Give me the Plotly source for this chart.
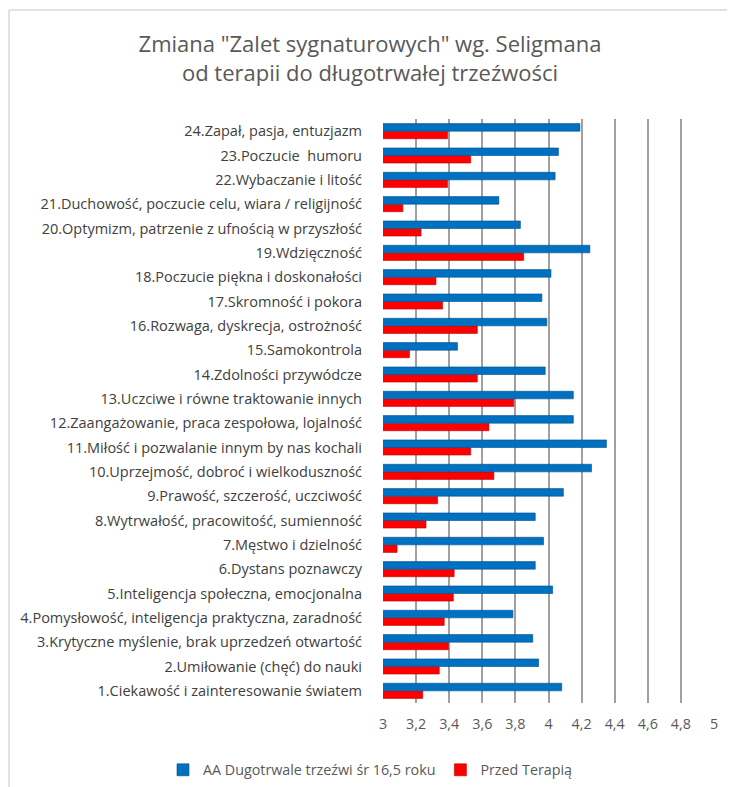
import plotly.graph_objects as go

categories = [
    "1.Ciekawość i zainteresowanie światem",
    "2.Umiłowanie (chęć) do nauki",
    "3.Krytyczne myślenie, brak uprzedzeń otwartość",
    "4.Pomysłowość, inteligencja praktyczna, zaradność",
    "5.Inteligencja społeczna, emocjonalna",
    "6.Dystans poznawczy",
    "7.Męstwo i dzielność",
    "8.Wytrwałość, pracowitość, sumienność",
    "9.Prawość, szczerość, uczciwość",
    "10.Uprzejmość, dobroć i wielkoduszność",
    "11.Miłość i pozwalanie innym by nas kochali",
    "12.Zaangażowanie, praca zespołowa, lojalność",
    "13.Uczciwe i równe traktowanie innych",
    "14.Zdolności przywódcze",
    "15.Samokontrola",
    "16.Rozwaga, dyskrecja, ostrożność",
    "17.Skromność i pokora",
    "18.Poczucie piękna i doskonałości",
    "19.Wdzięczność",
    "20.Optymizm, patrzenie z ufnością w przyszłość",
    "21.Duchowość, poczucie celu, wiara / religijność",
    "22.Wybaczanie i litość",
    "23.Poczucie  humoru",
    "24.Zapał, pasja, entuzjazm",
]

aa_values = [4.08, 3.94, 3.905, 3.785, 4.025, 3.92, 3.97, 3.92, 4.09, 4.26,
             4.35, 4.15, 4.15, 3.98, 3.45, 3.99, 3.96, 4.015, 4.25, 3.83,
             3.70, 4.04, 4.06, 4.19]
przed_values = [3.24, 3.34, 3.395, 3.37, 3.425, 3.43, 3.085, 3.26, 3.33, 3.67,
                3.53, 3.64, 3.79, 3.57, 3.16, 3.57, 3.36, 3.32, 3.85, 3.23,
                3.12, 3.39, 3.53, 3.39]

tick_vals = [3, 3.2, 3.4, 3.6, 3.8, 4, 4.2, 4.4, 4.6, 4.8, 5]
tick_text = ["3", "3,2", "3,4", "3,6", "3,8", "4", "4,2", "4,4", "4,6", "4,8", "5"]

series_names = ["AA Dugotrwale trzeźwi śr 16,5 roku", "Przed Terapią"]

# page has an 8px body margin; figure coordinates are page coordinates - 8
OFF = 8
W, H = 735 - OFF, 787 - OFF
L = 383 - OFF
R = W - (714 - OFF)
T = 119 - OFF
B = H - (703 - OFF)
PW, PH = W - L - R, H - T - B

FONT = "'Open Sans', 'Noto Sans', sans-serif"

fig = go.Figure()
fig.add_trace(go.Bar(
    y=categories, x=przed_values, orientation="h", name=series_names[1],
    marker=dict(color="#ff0000", line=dict(color="#c00000", width=0.6)),
))
fig.add_trace(go.Bar(
    y=categories, x=aa_values, orientation="h", name=series_names[0],
    marker=dict(color="#0070c0", line=dict(color="#004f8a", width=0.6)),
))

fig.update_layout(
    width=W, height=H,
    margin=dict(l=L, r=R, t=T, b=B, autoexpand=False),
    paper_bgcolor="white", plot_bgcolor="white",
    barmode="group", bargap=0.38, bargroupgap=0.0,
    font=dict(family=FONT, color="#404040"),
    title=dict(
        text="Zmiana \"Zalet sygnaturowych\" wg. Seligmana<br>od terapii do długotrwałej trzeźwości",
        x=(370 - OFF) / W, xanchor="center", xref="container",
        y=1 - (52 - OFF) / H, yanchor="middle", yref="container",
        font=dict(size=22, color="#595959", family=FONT),
    ),
    legend=dict(
        orientation="h", traceorder="reversed",
        x=(163 - OFF - L) / PW, xanchor="left", xref="paper",
        y=-(770 - 703) / PH, yanchor="middle", yref="paper",
        font=dict(size=14.3, color="#595959"),
        itemwidth=30,
    ),
    showlegend=True,
)
fig.update_xaxes(
    range=[3, 5], tickvals=tick_vals, ticktext=tick_text,
    showgrid=True, gridcolor="#a0a0a0", gridwidth=1.5,
    zeroline=False, showline=False,
    tickfont=dict(size=14.3, color="#595959"),
    ticklen=0, ticklabelstandoff=11,
)
fig.update_yaxes(
    showgrid=False, zeroline=False, showline=False,
    tickfont=dict(size=14.5, color="#404040"),
    ticks="", ticklabelstandoff=20,
)

# chart frame lines (left and top)
fx = (9 - OFF - L) / PW
fy = 1 + (T - (10 - OFF)) / PH
fig.add_shape(type="line", xref="paper", yref="paper",
              x0=fx, x1=fx, y0=fy, y1=-B / PH - 0.02,
              line=dict(color="#d9d9d9", width=1.5))
fig.add_shape(type="line", xref="paper", yref="paper",
              x0=fx, x1=1 + R / PW + 0.02, y0=fy, y1=fy,
              line=dict(color="#d9d9d9", width=1.5))

fig.write_html("out.html")
